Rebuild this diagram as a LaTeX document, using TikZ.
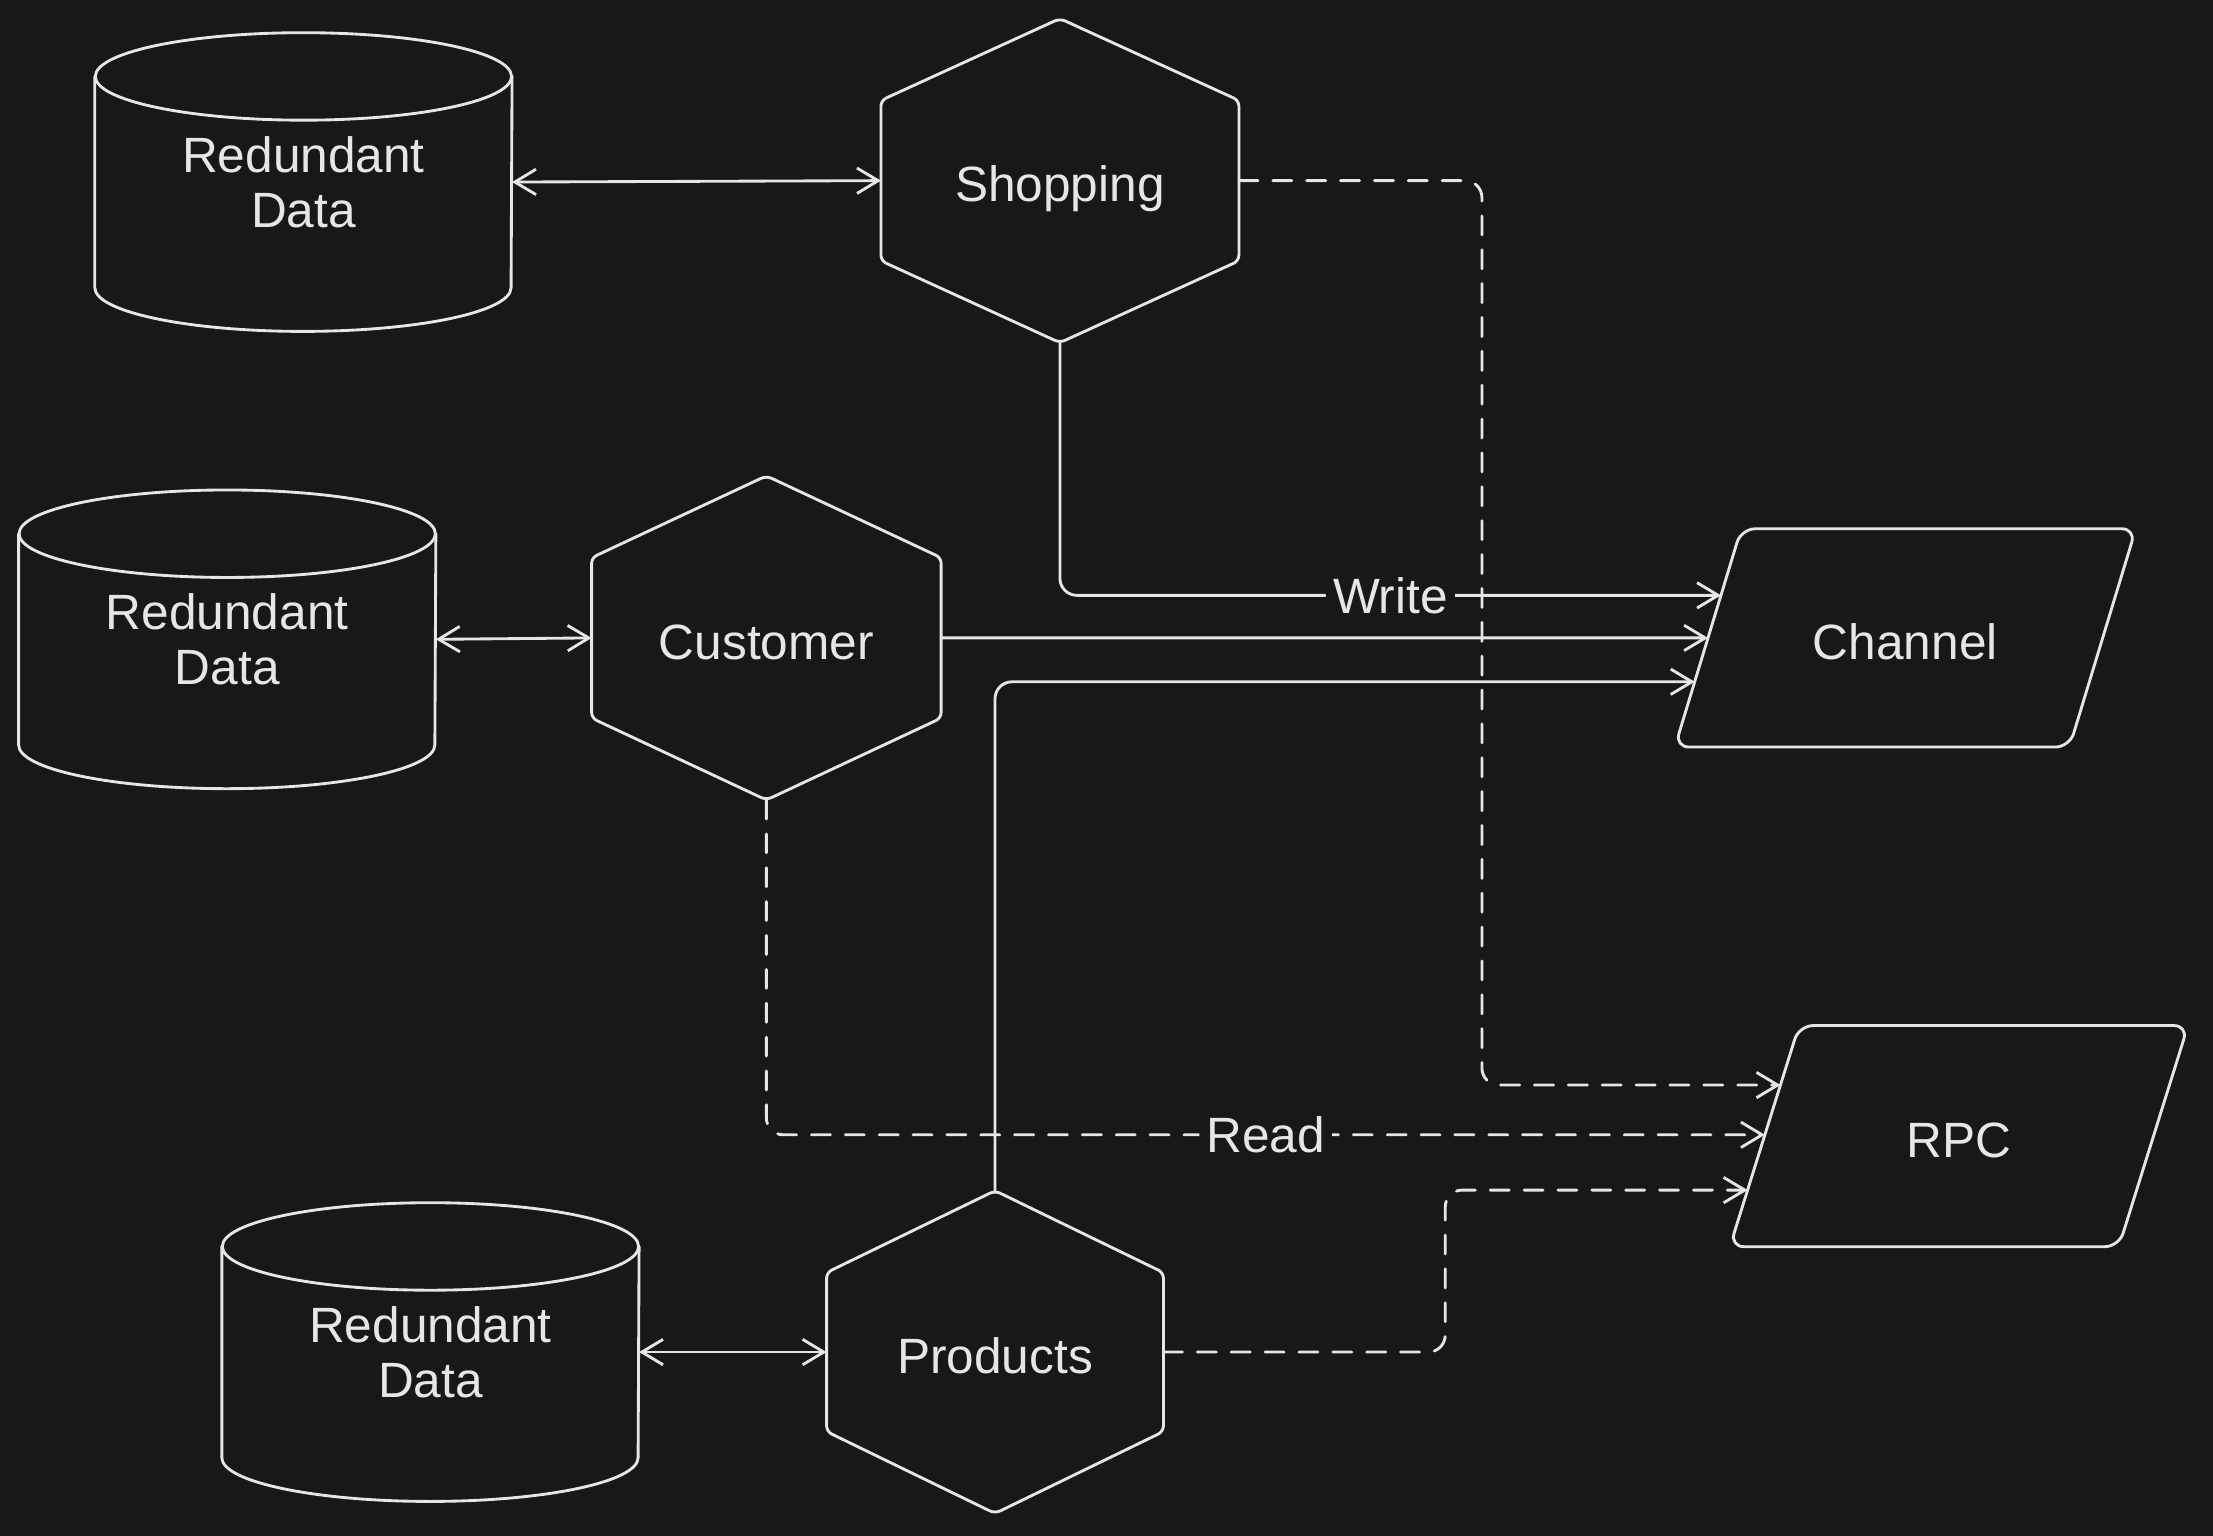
\documentclass[tikz,border=0pt]{standalone}
\usepackage{fontspec}
\setmainfont{Liberation Sans}
\usetikzlibrary{arrows.meta,calc}
\definecolor{bg}{HTML}{181818}
\definecolor{fg}{HTML}{E6E6E6}
\begin{document}
\begin{tikzpicture}[x=0.02cm,y=0.02cm,
  txt/.style={text=fg, font=\fontsize{20}{22}\selectfont, align=center, inner sep=0pt},
  oneline/.style={txt, text height=0.6cm, text depth=0cm},
  cylbox/.style={txt, minimum width=5.9cm, minimum height=4.22cm},
  shapeline/.style={draw=fg, line width=1.15pt, line join=round, line cap=round},
  conn/.style={draw=fg, line width=1.15pt, rounded corners=0.24cm, line cap=round},
  dconn/.style={conn, dash pattern=on 0.27cm off 0.21cm},
  tipend/.style={-{Straight Barb[length=0.3cm,width=0.36cm]}},
  tipboth/.style={{Straight Barb[length=0.3cm,width=0.36cm]}-{Straight Barb[length=0.3cm,width=0.36cm]}},
  lbl/.style={txt, fill=bg, inner sep=0.1cm}]
\fill[bg] (0,0) rectangle (1568,1088);
\useasboundingbox (0,0) rectangle (1568,1088);

% cylinders
\node[cylbox] (d1) at (215,959) {Redundant\\Data};
\node[cylbox] (d2) at (161,635) {Redundant\\Data};
\node[cylbox] (d3) at (305,130) {Redundant\\Data};
\foreach \n in {d1,d2,d3}{
  \draw[shapeline] ($(\n.north west)+(0,-31)$) -- ($(\n.south west)+(0,31)$)
     arc[start angle=180, end angle=360, x radius=2.95cm, y radius=0.62cm]
     -- ($(\n.north east)+(0,-31)$);
  \draw[shapeline] ($(\n.north)+(0,-31)$) ellipse[x radius=2.95cm, y radius=0.62cm];
}

% hexagons
\node[oneline, minimum width=5.06cm, minimum height=4.58cm] (shop) at (751,960) {Shopping};
\node[oneline, minimum width=4.94cm, minimum height=4.58cm] (cust) at (543,636) {Customer};
\node[oneline, minimum width=4.76cm, minimum height=4.56cm] (prod) at (705,130) {Products};
\foreach \n in {shop,cust,prod}{
  \draw[shapeline, rounded corners=0.08cm] (\n.north) -- ($(\n.north east)+(0,-58)$)
     -- ($(\n.south east)+(0,58)$) -- (\n.south) -- ($(\n.south west)+(0,58)$)
     -- ($(\n.north west)+(0,-58)$) -- cycle;
}

% parallelograms
\node[oneline, minimum width=6.52cm, minimum height=3.08cm] (chan) at (1350,636) {Channel};
\node[oneline, minimum width=6.48cm, minimum height=3.12cm] (rpc) at (1388,283) {RPC};
\coordinate (chanTL) at ($(chan.north west)+(47,0)$);
\coordinate (rpcTL) at ($(rpc.north west)+(49,0)$);
\draw[shapeline, rounded corners=0.2cm] (chanTL) -- (chan.north east)
   -- ($(chan.south east)+(-47,0)$) -- (chan.south west) -- cycle;
\draw[shapeline, rounded corners=0.2cm] (rpcTL) -- (rpc.north east)
   -- ($(rpc.south east)+(-49,0)$) -- (rpc.south west) -- cycle;

% target points on left edges
\coordinate (c1) at ($(chan.south west)!0.695!(chanTL)$);
\coordinate (c2) at ($(chan.south west)!0.5!(chanTL)$);
\coordinate (c3) at ($(chan.south west)!0.299!(chanTL)$);
\coordinate (r1) at ($(rpc.south west)!0.731!(rpcTL)$);
\coordinate (r2) at ($(rpc.south west)!0.506!(rpcTL)$);
\coordinate (r3) at ($(rpc.south west)!0.256!(rpcTL)$);
\coordinate (k1) at (1050,0);
\coordinate (k2) at (1024,0);

% database links
\draw[conn, tipboth] (d1.east) -- (shop.west);
\draw[conn, tipboth] (d2.east) -- (cust.west);
\draw[conn, tipboth] (d3.east) -- (prod.west);

% solid links to Channel
\draw[conn, tipend] (shop.south) |- (c1) node[lbl, pos=0.75] {Write};
\draw[conn, tipend] (cust.east) -- (c2);
\draw[conn, tipend] (prod.north) |- (c3);

% dashed links to RPC
\draw[dconn, tipend] (shop.east) -| (k1 |- r1) -- (r1);
\draw[dconn, tipend] (cust.south) |- (r2) node[lbl, pos=0.75] {Read};
\draw[dconn, tipend] (prod.east) -| (k2 |- r3) -- (r3);
\end{tikzpicture}
\end{document}
